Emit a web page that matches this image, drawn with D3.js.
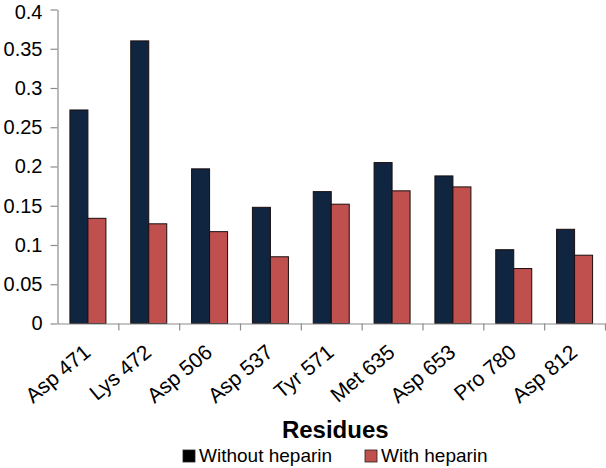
<!DOCTYPE html>
<html>
<head>
<meta charset="utf-8">
<script src="https://cdn.jsdelivr.net/npm/d3@7"></script>
<style>
  html, body { margin: 0; padding: 0; background: #fff; }
  svg { display: block; font-family: "Liberation Sans", Arial, sans-serif; }
</style>
</head>
<body>
<svg id="chart" width="606" height="468"></svg>
<script>
const categories = ["Asp 471", "Lys 472", "Asp 506", "Asp 537", "Tyr 571", "Met 635", "Asp 653", "Pro 780", "Asp 812"];
const seriesNames = ["Without heparin", "With heparin"];
const withoutHeparin = [0.272, 0.360, 0.197, 0.148, 0.168, 0.205, 0.188, 0.094, 0.120];
const withHeparin = [0.134, 0.127, 0.117, 0.085, 0.152, 0.169, 0.174, 0.070, 0.087];
const yTicks = [0, 0.05, 0.1, 0.15, 0.2, 0.25, 0.3, 0.35, 0.4];
const colors = ["#10253f", "#c0504d"];
const legendColors = ["#000000", "#c0504d"];
const xTitle = "Residues";

const svg = d3.select("#chart");
const plotLeft = 57.5, plotRight = 605, plotTop = 9.5, plotBottom = 323.5;

const x0 = d3.scaleBand().domain(categories).range([plotLeft, plotRight]).paddingInner(0).paddingOuter(0);
const x1 = d3.scaleBand().domain(seriesNames).range([0, x0.bandwidth()]).paddingInner(0).paddingOuter(0.69);
const y = d3.scaleLinear().domain([0, 0.4]).range([plotBottom, plotTop]);

const data = categories.map((c, i) => ({ cat: c, vals: [withoutHeparin[i], withHeparin[i]] }));

// bars
const g = svg.append("g");
g.selectAll("g.cat").data(data).join("g")
  .attr("class", "cat")
  .attr("transform", d => `translate(${x0(d.cat)},0)`)
  .selectAll("rect").data(d => d.vals.map((v, j) => ({ v, j })))
  .join("rect")
  .attr("x", d => x1(seriesNames[d.j]))
  .attr("y", d => y(d.v))
  .attr("width", x1.bandwidth())
  .attr("height", d => y(0) - y(d.v))
  .attr("fill", d => colors[d.j])
  .attr("stroke", "#1a0d0d")
  .attr("stroke-width", 1);

// y axis
const yAxis = svg.append("g")
  .attr("transform", `translate(${plotLeft},0)`)
  .call(d3.axisLeft(y).tickValues(yTicks).tickSize(7).tickPadding(8).tickSizeOuter(0)
        .tickFormat(d => String(+d.toFixed(2))));
yAxis.selectAll("path, line").attr("stroke", "#8c8c8c").attr("stroke-width", 1.2);
yAxis.selectAll("text").attr("font-size", 20).attr("fill", "#000")
  .attr("font-family", "'Liberation Sans', Arial, sans-serif");
// keep the top label fully inside the picture
yAxis.selectAll(".tick text").filter(d => d === 0.4).attr("dy", 9);

// x axis line with boundary ticks
const xb = d3.scaleLinear().domain([0, categories.length]).range([plotLeft, plotRight]);
const xAxisB = svg.append("g")
  .attr("transform", `translate(0,${plotBottom})`)
  .call(d3.axisBottom(xb).tickValues(d3.range(1, categories.length + 1)).tickSize(7).tickSizeOuter(0).tickFormat(""));
xAxisB.selectAll("path, line").attr("stroke", "#8c8c8c").attr("stroke-width", 1.2);

// x labels
const xAxisL = svg.append("g")
  .attr("transform", `translate(0,${plotBottom})`)
  .call(d3.axisBottom(x0).tickSize(0).tickSizeOuter(0));
xAxisL.select("path").remove();
xAxisL.selectAll("text")
  .attr("font-size", 21).attr("fill", "#000")
  .attr("font-family", "'Liberation Sans', Arial, sans-serif")
  .attr("text-anchor", "end")
  .attr("dy", 0)
  .attr("y", 0)
  .attr("transform", "translate(4,31) rotate(-40)");

// x title
svg.append("text")
  .attr("x", (plotLeft + plotRight) / 2 + 4)
  .attr("y", 438)
  .attr("text-anchor", "middle")
  .attr("font-size", 24)
  .attr("font-weight", "bold")
  .attr("fill", "#000")
  .text(xTitle);

// legend
const legendX = [183, 365];
const lg = svg.append("g").selectAll("g").data(seriesNames).join("g")
  .attr("transform", (d, i) => `translate(${legendX[i]},450)`);
lg.append("rect").attr("x", 0).attr("y", 0).attr("width", 12).attr("height", 12)
  .attr("fill", (d, i) => legendColors[i]).attr("stroke", "#222").attr("stroke-width", 0.8);
lg.append("text").attr("x", 16).attr("y", 12).attr("font-size", 19).attr("fill", "#000").text(d => d);
</script>
</body>
</html>
